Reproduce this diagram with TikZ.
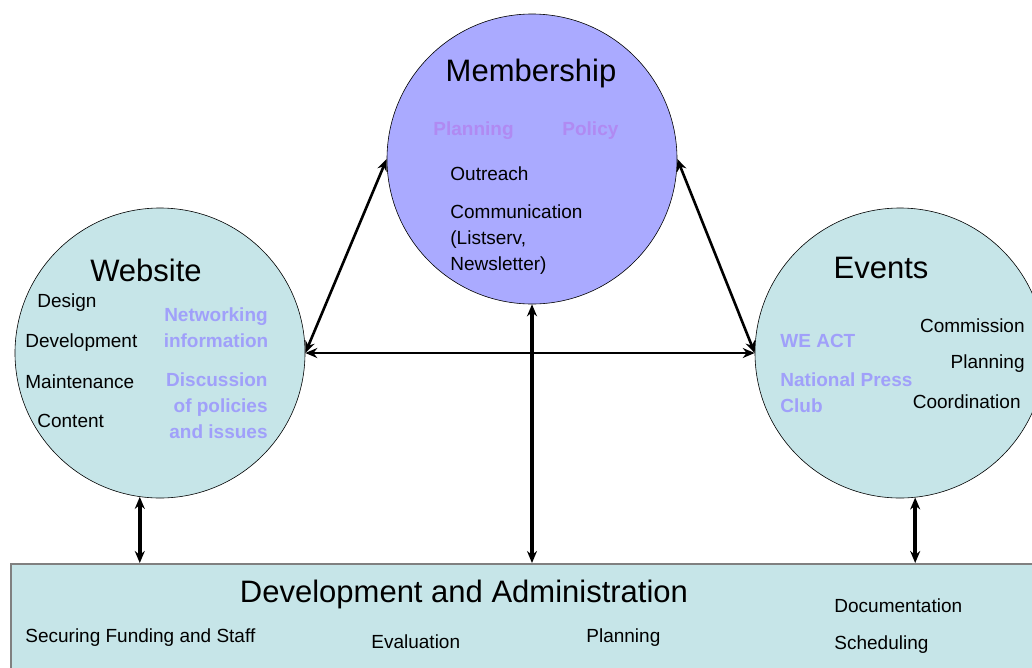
\documentclass[tikz,border=0pt]{standalone}
\usepackage{fontspec}
\setmainfont{Liberation Sans}
\usetikzlibrary{arrows.meta}
\definecolor{memblue}{RGB}{170,170,255}
\definecolor{paleteal}{RGB}{198,229,232}
\definecolor{lilac}{RGB}{176,138,242}
\definecolor{lavender}{RGB}{160,160,250}

\begin{document}
\begin{tikzpicture}[x=1pt, y=-1pt, thick,
  hub/.style = {draw, circle, minimum size=290pt, inner sep=0pt, line width=0.6pt},
  head/.style = {inner sep=0pt, font=\fontsize{31}{34}\selectfont},
  item/.style = {anchor=west, inner sep=0pt, align=left, font=\fontsize{19}{26}\selectfont},
  soft/.style = {item, text=lavender, font=\fontsize{19}{26}\selectfont\bfseries},
  link/.style = {{Stealth[length=12pt,width=10pt]}-{Stealth[length=12pt,width=10pt]}}]
\useasboundingbox (0,0) rectangle (1032,667);

% the three circles and the base panel
\node[hub, fill=memblue] (mem) at (532,159) {};
\node[hub, fill=paleteal] (web) at (160,353) {};
\node[hub, fill=paleteal] (ev) at (900,353) {};
\node[draw=gray, line width=1.5pt, fill=paleteal, anchor=north west,
  minimum width=1040pt, minimum height=120pt] (adm) at (10,563) {};

% Membership
\node[head] (memt) at (531,73) {Membership};
\node[soft, text=lilac] (mplan) at (433,131) {Planning};
\node[soft, text=lilac] (mpol) at (562,131) {Policy};
\node[item] (mout) at (450,174) {Outreach};
\node[item] (mcom) at (450,240) {Communication\\(Listserv,\\Newsletter)};

% Website
\node[head] (webt) at (146,270) {Website};
\node[item] (wdes) at (37,303) {Design};
\node[item] (wdev) at (25,343) {Development};
\node[item] (wmai) at (25,382) {Maintenance};
\node[item] (wcon) at (37,421) {Content};
\node[soft, anchor=center, align=center] (wnet) at (216,328) {Networking\\information};
\node[soft, anchor=east, align=right] (wdis) at (268,406) {Discussion\\of policies\\and issues};

% Events
\node[head] (evt) at (881,268) {Events};
\node[soft] (ewe) at (780,341) {WE ACT};
\node[soft] (enpc) at (780,393) {National Press\\Club};
\node[item, anchor=east] (ecom) at (1025,326) {Commission};
\node[item, anchor=east] (epla) at (1025,364) {Planning};
\node[item, anchor=east] (ecoo) at (1021,402) {Coordination};

% Development and Administration
\node[head] (admt) at (464,594) {Development and Administration};
\node[item] (afund) at (25,638) {Securing Funding and Staff};
\node[item] (aeval) at (371,642) {Evaluation};
\node[item] (aplan) at (586,638) {Planning};
\node[item] (adoc) at (834,606) {Documentation};
\node[item] (asch) at (834,645) {Scheduling};

% connectors
\draw[link, line width=2.6pt] (web.east) -- (mem.west);
\draw[link, line width=2.6pt] (mem.east) -- (ev.west);
\draw[link, line width=2pt] (web.east) -- (ev.west);
\draw[link, line width=3.5pt] (mem.south) -- (mem.south |- adm.north);
\draw[link, line width=4.5pt] (web.262) -- (web.262 |- adm.north);
\draw[link, line width=4.5pt] (ev.276) -- (ev.276 |- adm.north);
\end{tikzpicture}
\end{document}
